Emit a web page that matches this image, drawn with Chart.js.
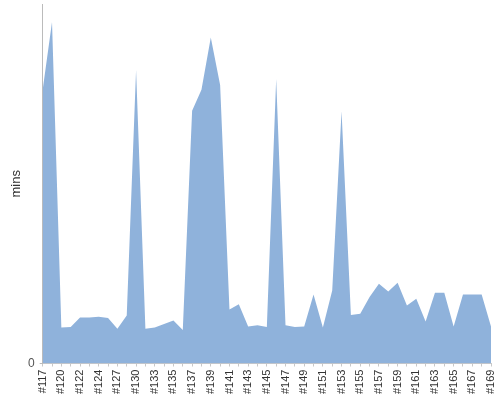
<!DOCTYPE html>
<html>
<head>
<meta charset="utf-8">
<script src="https://cdn.jsdelivr.net/npm/chart.js@4/dist/chart.umd.min.js"></script>
<style>
  html, body { margin: 0; padding: 0; background: #fff; }
  #wrap { width: 500px; height: 400px; }
</style>
</head>
<body>
<div id="wrap"><canvas id="myChart"></canvas></div>
<script>
// build numbers along the bottom (only every other one is labelled)
var builds = ['#117', '#118', '#120', '#121', '#122', '#123', '#124', '#126', '#127', '#129',
              '#130', '#132', '#133', '#134', '#135', '#136', '#137', '#138', '#139', '#140',
              '#141', '#142', '#143', '#144', '#145', '#146', '#147', '#148', '#149', '#150',
              '#151', '#152', '#153', '#154', '#155', '#156', '#157', '#158', '#159', '#160',
              '#161', '#162', '#163', '#164', '#165', '#166', '#167', '#168', '#169'];

// build duration in minutes
var durations = [45.7, 57.0, 6.0, 6.1, 7.7, 7.7, 7.8, 7.6, 5.8, 8.0,
                 49.0, 5.8, 6.0, 6.6, 7.2, 5.6, 42.2, 45.7, 54.4, 46.5,
                 9.0, 9.9, 6.2, 6.4, 6.1, 47.5, 6.4, 6.1, 6.2, 11.5,
                 6.0, 12.2, 42.1, 8.1, 8.3, 11.1, 13.3, 12.0, 13.5, 9.7,
                 10.8, 7.0, 11.8, 11.8, 6.2, 11.5, 11.5, 11.5, 6.2];

var yTicks = [0];
var yMax = 60;

document.addEventListener("DOMContentLoaded", function(event) {
    var ctx = document.getElementById('myChart').getContext('2d');

    var myLineChart = new Chart(ctx, {
    type: 'line',
    data: data,
    options: options
    });
});

var data = {
  labels: builds,
  datasets: [{
    label: 'mins',
    data: durations,
    fill: 'origin',
    backgroundColor: 'rgb(143,178,219)',
    borderColor: 'rgb(143,178,219)',
    borderWidth: 0,
    pointRadius: 0,
    tension: 0
  }]
};

var options = {
  responsive: true,
  maintainAspectRatio: false,
  animation: false,
  layout: { padding: { left: 10, top: 4, right: 9, bottom: 3 } },
  plugins: {
    legend: { display: false },
    tooltip: { enabled: false }
  },
  scales: {
    x: {
      offset: false,
      grid: { drawOnChartArea: false, tickLength: 3, color: '#c8c8c8' },
      border: { color: '#c8c8c8' },
      // rotated labels make chart.js keep extra room at the sides, drop it
      afterFit: function(scale) {
        scale.paddingLeft = 0;
        scale.paddingRight = 0;
      },
      ticks: {
        autoSkip: false,
        minRotation: 90,
        maxRotation: 90,
        padding: 3,
        color: '#333',
        font: { family: 'Liberation Sans, Arial, sans-serif', size: 11 },
        // label every second build only
        callback: function(val, index) {
          return index % 2 === 0 ? this.getLabelForValue(val) : '';
        }
      }
    },
    y: {
      min: 0,
      max: yMax,
      grid: { drawOnChartArea: false, tickLength: 3, color: '#bbb' },
      border: { color: '#bbb' },
      afterBuildTicks: function(axis) {
        axis.ticks = yTicks.map(function(v) { return { value: v }; });
      },
      afterFit: function(scale) {
        scale.paddingTop = 0;
      },
      ticks: {
        padding: 5,
        color: '#555',
        font: { family: 'Liberation Sans, Arial, sans-serif', size: 12 }
      },
      title: {
        display: true,
        text: 'mins',
        color: '#333',
        padding: 0,
        font: { family: 'Liberation Sans, Arial, sans-serif', size: 13, lineHeight: 1 }
      }
    }
  }
};
</script>
</body>
</html>
